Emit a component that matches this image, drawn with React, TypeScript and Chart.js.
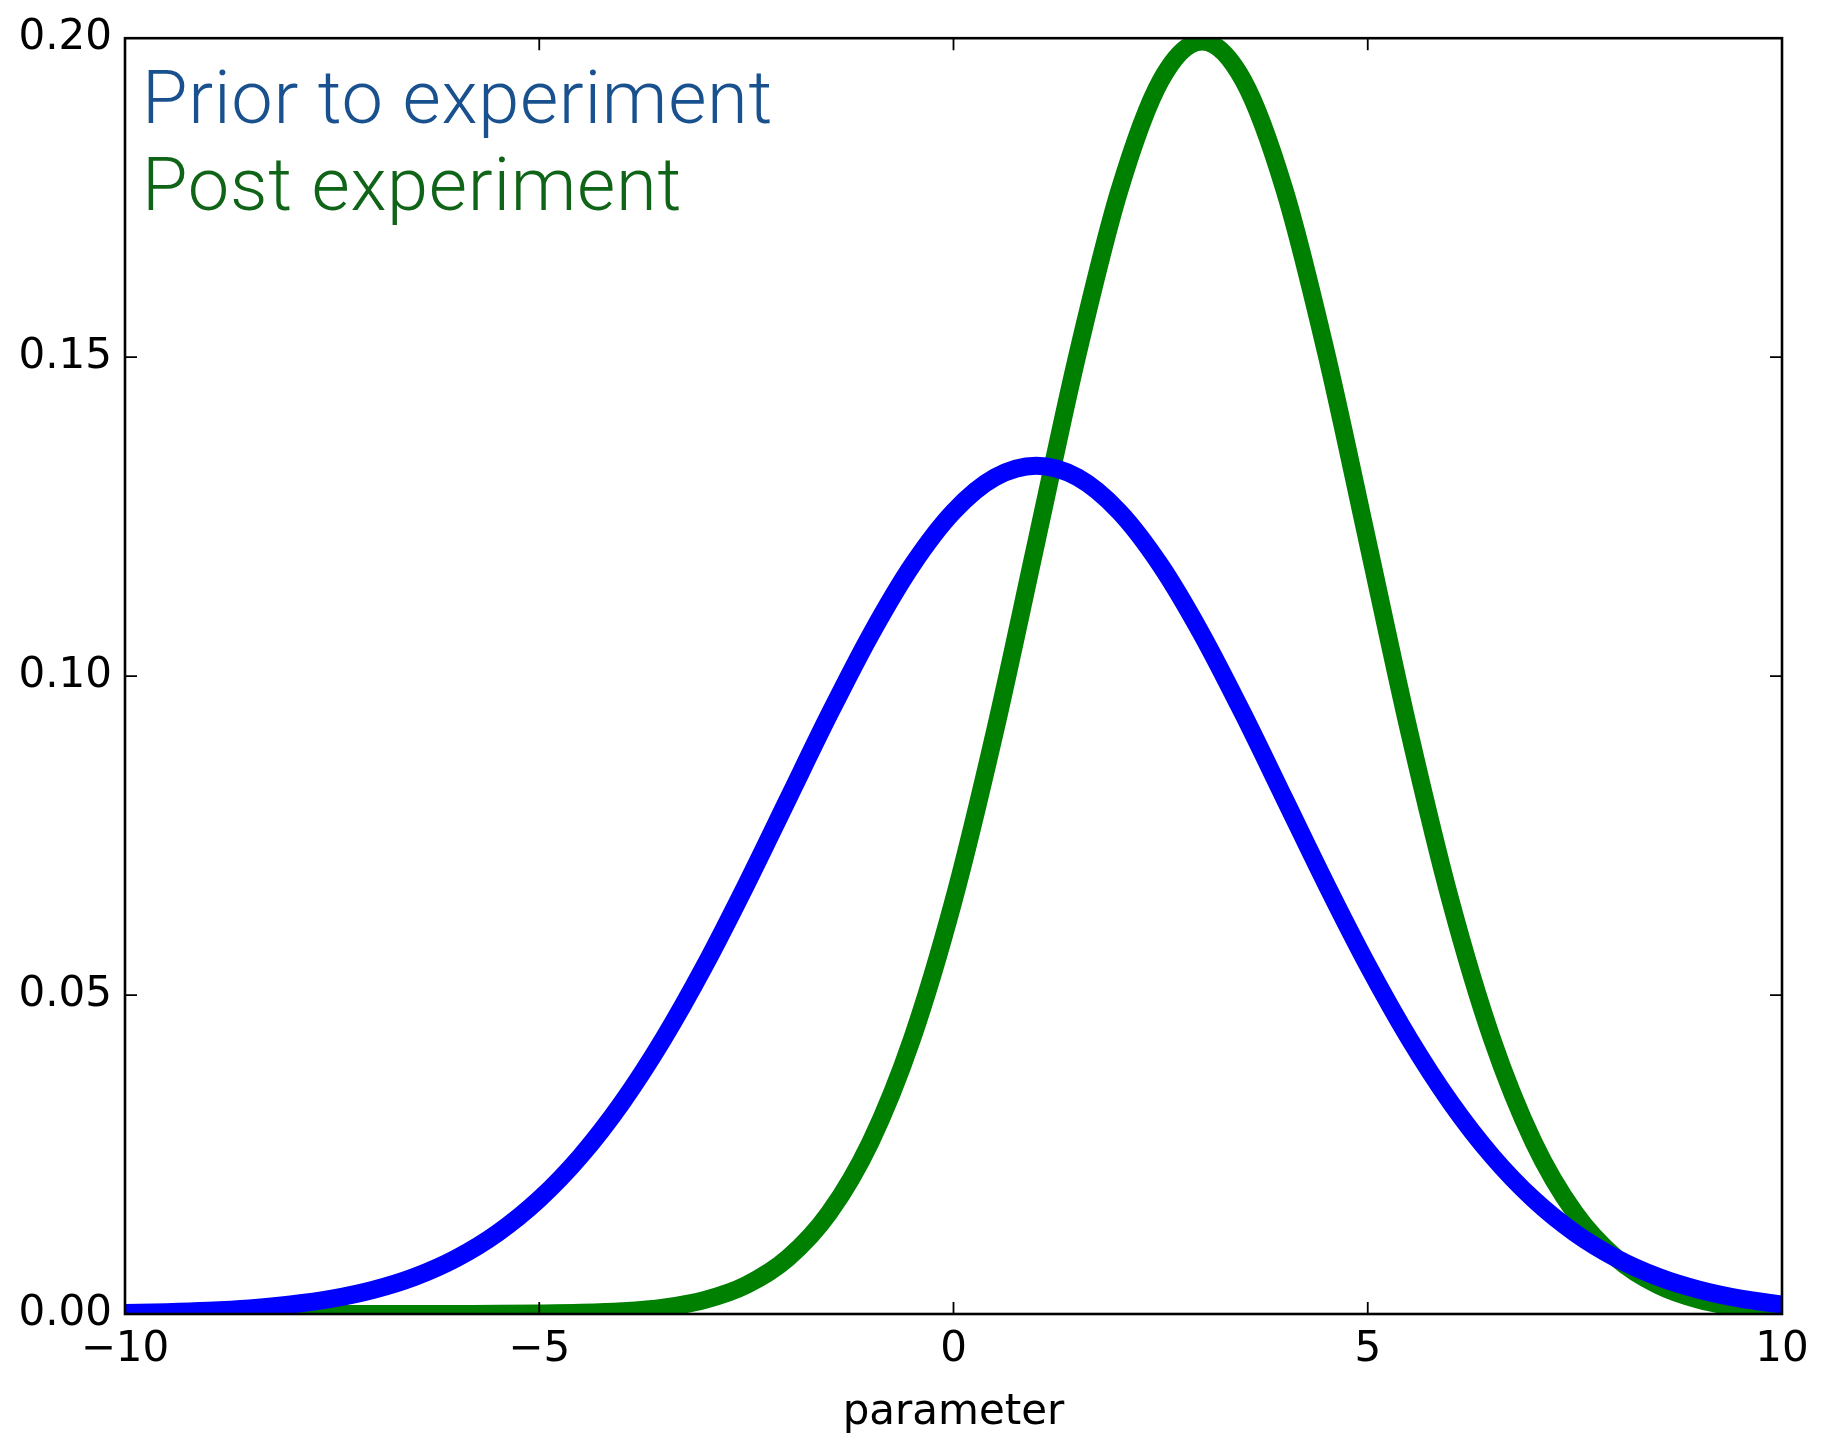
import React, { useEffect, useRef } from "react";
import { Chart, registerables } from "chart.js";

Chart.register(...registerables);

// x positions (parameter) at which the curves were read
const xValues = [
  -10, -9.5, -9, -8.5, -8, -7.5, -7, -6.5, -6, -5.5, -5, -4.5, -4, -3.5, -3, -2.5, -2, -1.5, -1, -0.5,
  0, 0.5, 1, 1.5, 2, 2.5, 3, 3.5, 4, 4.5, 5, 5.5, 6, 6.5, 7, 7.5, 8, 8.5, 9, 9.5, 10,
];

// "Prior to experiment" (blue)
const priorValues = [
  0.00016, 0.00029, 0.00051, 0.00088, 0.00148, 0.0024, 0.0038, 0.00584, 0.00874, 0.01272,
  0.018, 0.02477, 0.03316, 0.04317, 0.05467, 0.06734, 0.08066, 0.09397, 0.10648, 0.11736,
  0.12579, 0.13115, 0.13298, 0.13115, 0.12579, 0.11736, 0.10648, 0.09397, 0.08066, 0.06734,
  0.05467, 0.04317, 0.03316, 0.02477, 0.018, 0.01272, 0.00874, 0.00584, 0.0038, 0.0024, 0.00148,
];

// "Post experiment" (green)
const postValues = [
  0, 0, 0, 0, 0, 0, 0, 0, 0.00001, 0.00002,
  0.00007, 0.00018, 0.00044, 0.00101, 0.00222, 0.00455, 0.00876, 0.01587, 0.027, 0.04314,
  0.06476, 0.09132, 0.12099, 0.15057, 0.17603, 0.19333, 0.19947, 0.19333, 0.17603, 0.15057,
  0.12099, 0.09132, 0.06476, 0.04314, 0.027, 0.01587, 0.00876, 0.00455, 0.00222, 0.00101, 0.00044,
];

const xTicks = [-10, -5, 0, 5, 10];
const yTicks = [0, 0.05, 0.1, 0.15, 0.2];
const legendLabels = ["Prior to experiment", "Post experiment"];
const legendColors = ["#19518f", "#0f6417"];
const xTitle = "parameter";

const frameAndLegend = {
  id: "frameAndLegend",
  afterDraw(chart: any) {
    const { ctx, chartArea } = chart;
    const { left, right, top, bottom } = chartArea;
    const xs = chart.scales.x;
    const ys = chart.scales.y;
    ctx.save();
    // inward ticks on all four sides
    ctx.strokeStyle = "#000";
    ctx.lineWidth = 1.8;
    const tl = 12;
    ctx.beginPath();
    xTicks.forEach((v) => {
      const px = xs.getPixelForValue(v);
      ctx.moveTo(px, bottom);
      ctx.lineTo(px, bottom - tl);
      ctx.moveTo(px, top);
      ctx.lineTo(px, top + tl);
    });
    yTicks.forEach((v) => {
      const py = ys.getPixelForValue(v);
      ctx.moveTo(left, py);
      ctx.lineTo(left + tl, py);
      ctx.moveTo(right, py);
      ctx.lineTo(right - tl, py);
    });
    ctx.stroke();
    // frame
    ctx.lineWidth = 2.6;
    ctx.strokeRect(left, top, right - left, bottom - top);
    // legend text
    ctx.font = '300 74px "Roboto"';
    try {
      (ctx as any).letterSpacing = "0.7px";
    } catch (e) {
      /* ignore */
    }
    ctx.textAlign = "left";
    ctx.textBaseline = "alphabetic";
    ctx.fillStyle = legendColors[0];
    ctx.fillText(legendLabels[0], left + 17, top + 85);
    ctx.fillStyle = legendColors[1];
    ctx.fillText(legendLabels[1], left + 17, top + 172);
    ctx.restore();
  },
};

export default function App() {
  const canvasRef = useRef<HTMLCanvasElement | null>(null);

  useEffect(() => {
    document.body.style.margin = "0";
    const canvas = canvasRef.current;
    if (!canvas) return;
    const tickFont = { family: '"DejaVu Sans"', size: 42 };
    const chart = new Chart(canvas, {
      type: "line",
      data: {
        datasets: [
          {
            label: legendLabels[0],
            data: xValues.map((x, i) => ({ x, y: priorValues[i] })),
            borderColor: "#0000ff",
            borderWidth: 18,
            pointRadius: 0,
            cubicInterpolationMode: "monotone",
            fill: false,
            clip: 0,
          },
          {
            label: legendLabels[1],
            data: xValues.map((x, i) => ({ x, y: postValues[i] })),
            borderColor: "#008000",
            borderWidth: 18,
            pointRadius: 0,
            cubicInterpolationMode: "monotone",
            fill: false,
            clip: 0,
          },
        ],
      },
      options: {
        responsive: false,
        animation: false,
        devicePixelRatio: 1,
        layout: { padding: { left: 0, right: 50, top: 33, bottom: 0 } },
        plugins: { legend: { display: false }, tooltip: { enabled: false } },
        scales: {
          x: {
            type: "linear",
            min: -10,
            max: 10,
            grid: { display: false, drawTicks: false },
            border: { display: false },
            afterBuildTicks: (scale: any) => {
              scale.ticks = xTicks.map((v) => ({ value: v }));
            },
            afterFit: (scale: any) => {
              scale.height = 122;
            },
            ticks: {
              font: tickFont,
              color: "#000",
              padding: 11,
              maxRotation: 0,
              autoSkip: false,
              callback: (v: any) => String(v).replace("-", "\u2212"),
            },
            title: {
              display: true,
              text: xTitle,
              color: "#000",
              font: { family: '"DejaVu Sans"', size: 42, lineHeight: 1.1 },
              padding: { top: 0, bottom: 0 },
            },
          },
          y: {
            type: "linear",
            min: 0,
            max: 0.2,
            grid: { display: false, drawTicks: false },
            border: { display: false },
            afterBuildTicks: (scale: any) => {
              scale.ticks = yTicks.map((v) => ({ value: v }));
            },
            afterFit: (scale: any) => {
              scale.width = 125;
            },
            ticks: {
              font: tickFont,
              color: "#000",
              padding: 13,
              autoSkip: false,
              callback: (v: any) => Number(v).toFixed(2),
            },
          },
        },
      },
      plugins: [frameAndLegend],
    } as any);
    return () => chart.destroy();
  }, []);

  return <canvas ref={canvasRef} width={1832} height={1436} style={{ display: "block" }} />;
}
